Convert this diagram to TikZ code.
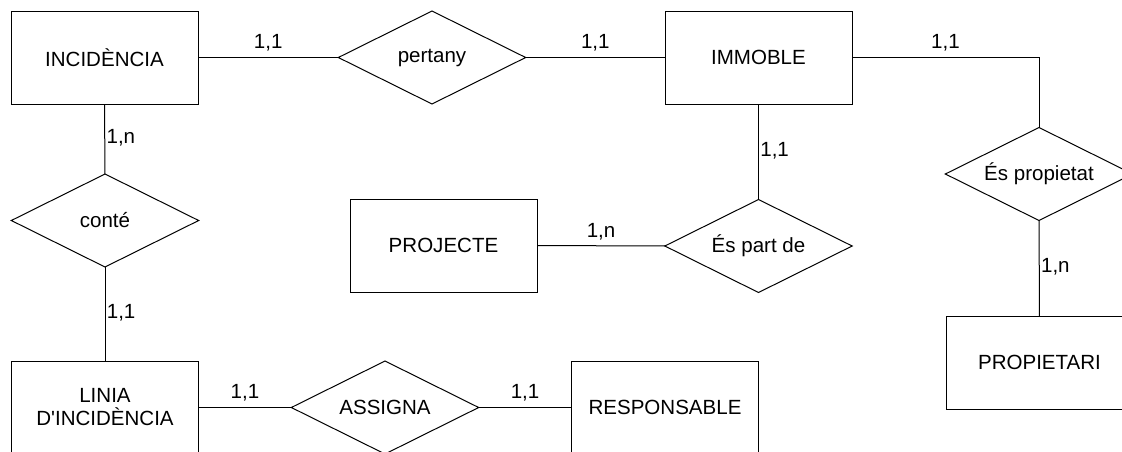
\documentclass[tikz,border=0pt]{standalone}
\usepackage{fontspec}
\setmainfont{Liberation Sans}[Ligatures=TeXOff]
\usetikzlibrary{shapes.geometric}
\tikzset{
  ent/.style={draw=black, line width=0.75pt, rectangle, minimum width=140.25pt, minimum height=69.75pt, inner sep=0pt, outer sep=0pt, align=center, font=\fontsize{15.4pt}{17.25pt}\selectfont},
  rel/.style={draw=black, line width=0.75pt, diamond, aspect=2, minimum width=140.5pt, minimum height=69.75pt, inner sep=0pt, outer sep=0pt, font=\fontsize{15.4pt}{17.25pt}\selectfont},
  conn/.style={draw=black, line width=0.75pt},
  cardh/.style={midway, anchor=base, yshift=6.4pt, inner sep=0pt, font=\fontsize{15.4pt}{18pt}\selectfont},
  cardv/.style={midway, anchor=west, xshift=1pt, yshift=1pt, inner sep=0pt, font=\fontsize{15.4pt}{18pt}\selectfont}
}
\begin{document}
\begin{tikzpicture}[x=0.75pt, y=-0.75pt]
\useasboundingbox (0,0) rectangle (1122,451);
\node[ent] (inc) at (104.5,57.5) {INCIDÈNCIA};
\node[rel] (per) at (432,57.5) {pertany};
\node[ent] (imm) at (758.5,57.5) {IMMOBLE};
\node[rel] (espro) at (1039,174) {És propietat};
\node[ent] (prop) at (1039.5,362.5) {PROPIETARI};
\node[ent] (proj) at (443.5,245.5) {PROJECTE};
\node[rel] (espart) at (758.5,246) {És part de};
\node[rel] (con) at (105,220.5) {conté};
\node[ent] (lin) at (105,407.5) {LINIA\\D'INCIDÈNCIA};
\node[rel] (asg) at (385,407.5) {ASSIGNA};
\node[ent] (resp) at (665,407.5) {RESPONSABLE};

\draw[conn] (inc) -- node[cardh] (l1) {1,1} (per);
\draw[conn] (per) -- node[cardh] (l2) {1,1} (imm);
\draw[conn] (imm.east) -| (espro.north);
\path (imm.east) -- node[cardh] (l3) {1,1} (imm.east -| espro.north);
\draw[conn] (espro) -- node[cardv] (l4) {1,n} (prop);
\draw[conn] (imm) -- node[cardv] (l5) {1,1} (espart);
\draw[conn] (proj) -- node[cardh] (l6) {1,n} (espart);
\draw[conn] (inc) -- node[cardv] (l7) {1,n} (con);
\draw[conn] (con) -- node[cardv] (l8) {1,1} (lin);
\draw[conn] (lin) -- node[cardh] (l9) {1,1} (asg);
\draw[conn] (asg) -- node[cardh] (l10) {1,1} (resp);
\end{tikzpicture}
\end{document}
